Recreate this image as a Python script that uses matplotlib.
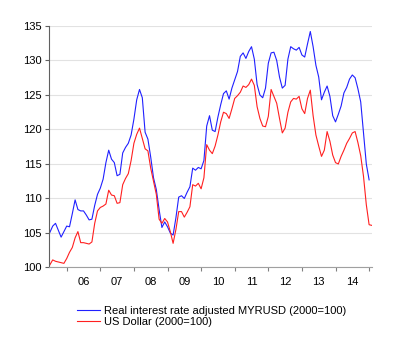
import numpy as np
import matplotlib
matplotlib.use("Agg")
from matplotlib import pyplot as plt

## monthly index values, Jul 2005 onwards
myrusd_real = [105.1, 106.0, 106.4, 105.4, 104.4, 105.2, 106.0, 105.9, 107.8, 109.8,
               108.4, 108.2, 108.2, 107.6, 106.9, 107.0, 109.0, 110.6, 111.5, 112.8,
               115.2, 117.0, 115.7, 115.2, 113.3, 113.5, 116.6, 117.4, 118.0, 119.2,
               121.5, 124.3, 125.8, 124.6, 119.6, 118.6, 116.0, 113.0, 111.3, 108.4,
               105.8, 106.6, 105.9, 105.0, 104.7, 107.2, 110.2, 110.4, 110.0, 110.9,
               111.7, 114.4, 114.1, 114.5, 114.3, 115.5, 120.5, 122.0, 119.9, 119.7,
               121.8, 123.6, 125.2, 125.6, 124.4, 126.0, 127.2, 128.4, 130.6, 131.1,
               130.3, 131.3, 132.0, 130.2, 126.5, 125.0, 124.6, 126.0, 129.6, 131.1,
               131.2, 130.0, 127.6, 126.0, 126.4, 130.2, 132.0, 131.7, 131.5, 131.9,
               130.8, 130.5, 132.4, 134.2, 132.0, 129.3, 127.6, 124.3, 125.4, 126.3,
               124.8, 122.0, 121.1, 122.2, 123.4, 125.3, 126.1, 127.3, 127.9, 127.5,
               125.9, 124.0, 119.5, 115.0, 112.7]
usd = [100.4, 101.1, 100.9, 100.8, 100.7, 100.6, 101.3, 102.2, 102.9, 104.3,
       105.2, 103.6, 103.6, 103.5, 103.4, 103.7, 106.4, 108.2, 108.7, 108.9,
       109.2, 111.2, 110.5, 110.4, 109.3, 109.4, 112.0, 112.9, 113.6, 115.5,
       118.0, 119.3, 120.2, 118.7, 117.2, 116.9, 114.4, 112.5, 110.6, 107.0,
       106.4, 107.1, 106.6, 105.2, 103.5, 105.5, 108.1, 108.1, 107.3, 108.0,
       108.8, 112.0, 111.8, 112.2, 111.4, 113.0, 117.8, 117.0, 116.5, 117.6,
       119.2, 121.1, 122.5, 122.3, 121.6, 123.0, 124.5, 124.9, 125.4, 126.3,
       126.1, 126.5, 127.3, 126.4, 123.3, 121.6, 120.5, 120.4, 121.9, 125.8,
       124.8, 123.8, 121.6, 119.5, 120.2, 122.5, 124.0, 124.5, 124.4, 124.8,
       123.0, 122.3, 124.5, 125.7, 122.0, 119.2, 117.6, 116.1, 117.0, 119.7,
       118.3, 116.3, 115.2, 115.0, 116.1, 117.0, 118.0, 118.7, 119.5, 119.7,
       118.1, 116.2, 113.2, 109.1, 106.2, 106.1]
year_labels = ["06", "07", "08", "09", "10", "11", "12", "13", "14"]
labels = ["Real interest rate adjusted MYRUSD (2000=100)", "US Dollar (2000=100)"]

plt.rcParams['font.family'] = ['Liberation Sans', 'DejaVu Sans']

t_blue = 2005.5 + np.arange(len(myrusd_real)) / 12.
t_red = 2005.5 + np.arange(len(usd)) / 12.

fig = plt.figure(figsize=(4.0, 3.55), dpi=100)
ax = fig.add_axes([0.1225, 0.2465, 0.8075, 0.6803])

ax.plot(t_blue, myrusd_real, color='#2020ff', lw=0.8, label=labels[0])
ax.plot(t_red, usd, color='#ff2020', lw=0.8, label=labels[1])

ax.set_xlim(2005.473, 2015.086)
ax.set_ylim(100, 135)
ax.set_yticks(np.arange(100, 136, 5))
ax.yaxis.grid(True, color='#e2e2e2', lw=0.8)
ax.set_axisbelow(True)

## year ticks at boundaries, labels at mid-year
ax.set_xticks(np.arange(2006, 2016))
ax.set_xticklabels([])
ax.set_xticks(np.arange(2006, 2015) + 0.5, minor=True)
ax.set_xticklabels(year_labels, minor=True)
ax.tick_params(axis='x', which='minor', length=0, pad=7, labelsize=8)
ax.tick_params(axis='x', which='major', length=3, color='#808080')
ax.tick_params(axis='y', length=3, color='#606060', labelsize=8, pad=2)

for s in ['top', 'right']:
    ax.spines[s].set_visible(False)
ax.spines['left'].set_color('#606060')
ax.spines['bottom'].set_color('#a0a0a0')
ax.spines['bottom'].set_linewidth(0.8)

fig.legend(loc='upper left', bbox_to_anchor=(0.1925, 0.138), frameon=False,
           fontsize=8, handlelength=2.1, handletextpad=0.3, labelspacing=0.12,
           borderpad=0, borderaxespad=0)

fig.savefig('out.png', dpi=100)
